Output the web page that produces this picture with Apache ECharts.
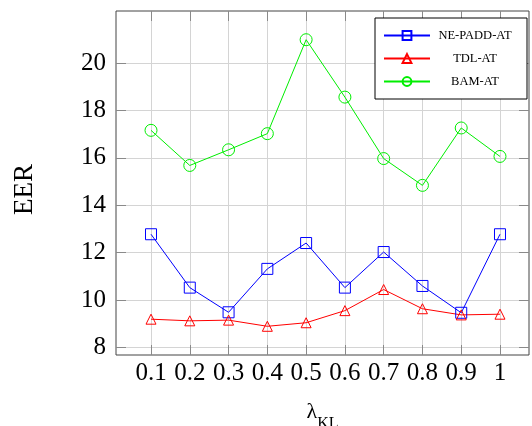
<!DOCTYPE html>
<html>
<head>
<meta charset="utf-8">
<script src="https://cdn.jsdelivr.net/npm/echarts@6/dist/echarts.min.js"></script>
<style>html,body{margin:0;padding:0;background:#fff;}#c{width:532px;height:426px;}</style>
</head>
<body>
<div id="c"></div>
<script>
var lambdaKL = [0.1, 0.2, 0.3, 0.4, 0.5, 0.6, 0.7, 0.8, 0.9, 1.0];
var nePaddAT = [12.78, 10.53, 9.49, 11.32, 12.41, 10.53, 12.03, 10.60, 9.47, 12.78];
var tdlAT    = [9.20, 9.13, 9.16, 8.90, 9.05, 9.56, 10.45, 9.64, 9.38, 9.41];
var bamAT    = [17.16, 15.68, 16.34, 17.02, 20.98, 18.56, 15.97, 14.84, 17.26, 16.06];
var yTicks = [8, 10, 12, 14, 16, 18, 20];
var xTicks = [0.1, 0.2, 0.3, 0.4, 0.5, 0.6, 0.7, 0.8, 0.9, 1];

function pairs(ys) { return lambdaKL.map(function (x, i) { return [x, ys[i]]; }); }

var serif = 'Liberation Serif';
var xMin = 0.0097, xMax = 1.0748, yMin = 7.69, yMax = 22.19;
var tickStyle = { show: true, inside: true, length: 10, lineStyle: { color: '#8a8a8a', width: 1 } };
var gridLine = { show: true, lineStyle: { color: '#d4d4d4', width: 1 } };

function mk(name, data, color, symbol, size) {
  return {
    name: name, type: 'line', data: pairs(data),
    symbol: symbol, symbolSize: size,
    lineStyle: { color: color, width: 1 },
    itemStyle: { color: 'rgba(255,255,255,0)', borderColor: color, borderWidth: 1 },
    color: color, animation: false, z: 3
  };
}

var chart = echarts.init(document.getElementById('c'), null, { renderer: 'canvas' });
chart.setOption({
  backgroundColor: '#fff',
  animation: false,
  grid: { left: 116, right: 3, top: 11, bottom: 71, show: true, borderColor: '#444', borderWidth: 1, containLabel: false, outerBoundsMode: 'none' },
  legend: {
    left: 375, top: 18, orient: 'vertical',
    backgroundColor: '#fff', borderColor: '#000', borderWidth: 1,
    padding: [11, 12, 11, 8], itemGap: 10, itemWidth: 46, itemHeight: 11,
    formatter: '{a|{name}}',
    textStyle: { fontFamily: serif, fontSize: 12.5, color: '#000', rich: { a: { width: 80, align: 'center', fontFamily: serif, fontSize: 12.5, lineHeight: 14 } } },
    data: ['NE-PADD-AT', 'TDL-AT', 'BAM-AT']
  },
  xAxis: [{
    type: 'value', min: xMin, max: xMax, position: 'bottom',
    name: '{l|λ}{s|KL}', nameLocation: 'middle', nameGap: 46,
    nameTextStyle: { rich: {
      l: { fontFamily: serif, fontSize: 22, color: '#000', verticalAlign: 'bottom', padding: [0, 0, 9, 0] },
      s: { fontFamily: serif, fontSize: 16, color: '#000', verticalAlign: 'bottom' } } },
    axisLine: { show: false },
    axisTick: Object.assign({ customValues: xTicks }, tickStyle),
    axisLabel: { customValues: xTicks, fontFamily: serif, fontSize: 25, color: '#000', margin: 6, formatter: function (v) { return String(v); } },
    splitLine: gridLine
  }, {
    type: 'value', min: xMin, max: xMax, position: 'top',
    axisLine: { show: false },
    axisTick: Object.assign({ customValues: xTicks }, tickStyle),
    axisLabel: { show: false }, splitLine: { show: false }
  }],
  yAxis: [{
    type: 'value', min: yMin, max: yMax, position: 'left',
    name: 'EER', nameLocation: 'middle', nameGap: 78, nameRotate: 90,
    nameTextStyle: { fontFamily: serif, fontSize: 27, color: '#000', padding: [0, 13, 0, 0] },
    axisLine: { show: false },
    axisTick: Object.assign({ customValues: yTicks }, tickStyle),
    axisLabel: { customValues: yTicks, fontFamily: serif, fontSize: 25, color: '#000', margin: 10 },
    splitLine: gridLine
  }, {
    type: 'value', min: yMin, max: yMax, position: 'right',
    axisLine: { show: false },
    axisTick: Object.assign({ customValues: yTicks }, tickStyle),
    axisLabel: { show: false }, splitLine: { show: false }
  }],
  series: [
    mk('NE-PADD-AT', nePaddAT, '#0000ff', 'rect', 11),
    mk('TDL-AT', tdlAT, '#ff0000', 'triangle', 10),
    mk('BAM-AT', bamAT, '#00ee00', 'circle', 12)
  ]
});
</script>
</body>
</html>
